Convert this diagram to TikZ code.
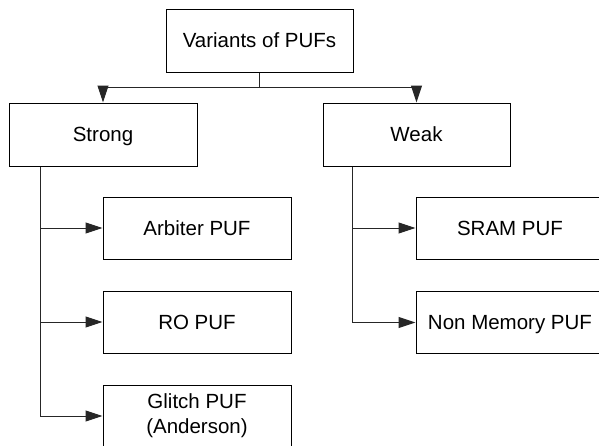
\documentclass[tikz,border=0pt]{standalone}
\usepackage{fontspec}
\setmainfont{Liberation Sans}
\usetikzlibrary{arrows.meta,calc}
\begin{document}
\begin{tikzpicture}[x=1pt,y=-1pt,
  box/.style={draw=black,line width=1pt,inner sep=0pt,minimum width=188pt,minimum height=63pt,
    font=\fontsize{20.5}{25}\selectfont,align=center,text=black},
  one/.style={text height=14.7pt,text depth=0pt},
  conn/.style={draw=black!85,line width=1pt},
  arr/.style={conn,-{Triangle[length=17pt,width=11pt]}}]
\useasboundingbox (0,0) rectangle (599,445);
\fill[white] (0,0) rectangle (599,445);
\node[box,one,minimum width=187pt] (V) at (259.5,40.5) {Variants of PUFs};
\node[box,one] (S) at (103,134.5) {Strong};
\node[box,one,minimum width=187pt] (W) at (416.5,134.5) {Weak};
\node[box,one,minimum height=62pt] (A) at (197,228) {Arbiter PUF};
\node[box,one,minimum height=62pt] (R) at (197,322) {RO PUF};
\node[box,minimum height=62pt] (G) at (197,416) {Glitch PUF\\(Anderson)};
\node[box,one,minimum height=62pt] (SR) at (510,228) {SRAM PUF};
\node[box,one,minimum height=62pt] (N) at (510,322.5) {Non Memory PUF};
\coordinate (hub) at ($(V.south)+(0,15)$);
\draw[conn] (V.south) -- (hub);
\draw[arr] (hub) -| (S.north);
\draw[arr] (hub) -| (W.north);
\coordinate (sl) at ($(S.south west)+(32,0)$);
\coordinate (wl) at ($(W.south west)+(30,0)$);
\draw[arr] (sl) |- (A.west);
\draw[arr] (sl) |- (R.west);
\draw[arr] (sl) |- (G.west);
\draw[arr] (wl) |- (SR.west);
\draw[arr] (wl) |- (N.west);
\end{tikzpicture}
\end{document}
